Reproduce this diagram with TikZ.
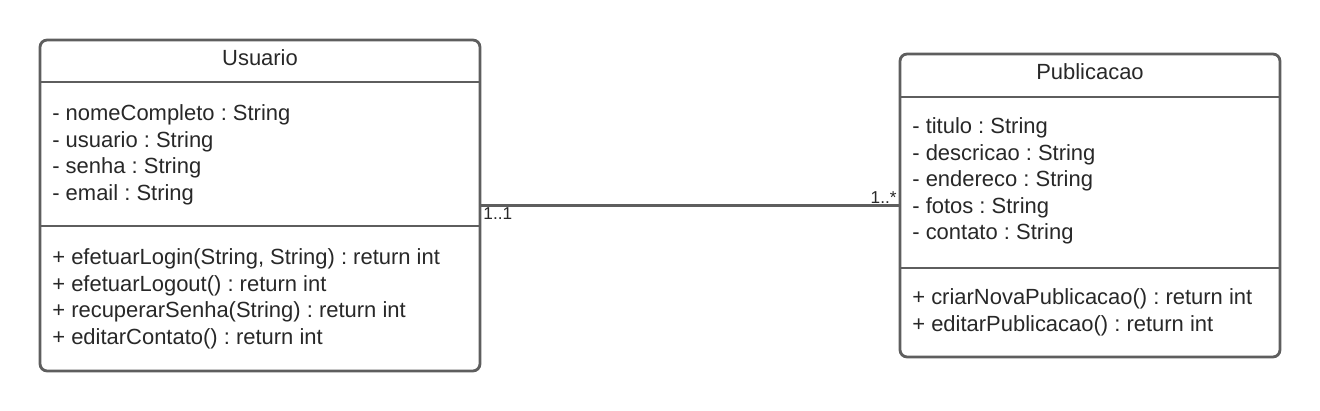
\documentclass[tikz,border=0pt]{standalone}
\usepackage{fontspec}
\setmainfont{Liberation Sans}
\usetikzlibrary{positioning}
\definecolor{umlgray}{HTML}{5E5E5E}
\definecolor{umltext}{HTML}{282828}
\frenchspacing

\begin{document}
\begin{tikzpicture}[
    x=0.02cm, y=-0.02cm,
    classbox/.style={rectangle, draw=umlgray, line width=1.6pt, rounded corners=4pt, fill=white, inner sep=0pt},
    divider/.style={draw=umlgray, line width=1.6pt},
    member/.style={anchor=base west, inner sep=0pt, text=umltext, font=\fontsize{12.5}{15}\selectfont},
    title/.style={anchor=base, inner sep=0pt, text=umltext, font=\fontsize{12.5}{15}\selectfont},
    mult/.style={inner sep=1pt, text=umltext, font=\fontsize{9.8}{11}\selectfont},
    line/.style={draw=umlgray, line width=1.2pt}
]
    \useasboundingbox (0,0) rectangle (1320,411);

    % Classes
    \node [classbox, minimum width=8.8cm, minimum height=6.62cm] (usuario) at (260,205.5) {};
    \node [classbox, minimum width=7.6cm, minimum height=6.06cm] (publicacao) at (1090,205.5) {};

    \path [divider] (40,82) -- (480,82);
    \path [divider] (40,226) -- (480,226);
    \path [divider] (900,97) -- (1280,97);
    \path [divider] (900,268) -- (1280,268);

    % Usuario
    \node [title] (usuarioname) at (260,66) {Usuario};
    \foreach \txt [count=\i from 0] in {- nomeCompleto : String, - usuario : String, - senha : String, - email : String}
        \node [member] (uattr\i) at (52,121+26.5*\i) {\txt};
    \foreach \txt [count=\i from 0] in {{+ efetuarLogin(String, String) : return int}, + efetuarLogout() : return int, + recuperarSenha(String) : return int, + editarContato() : return int}
        \node [member] (umeth\i) at (52,265+26.5*\i) {\txt};

    % Publicacao
    \node [title] (publicacaoname) at (1090,80) {Publicacao};
    \foreach \txt [count=\i from 0] in {- titulo : String, - descricao : String, - endereco : String, - fotos : String, - contato : String}
        \node [member] (pattr\i) at (912,134+26.5*\i) {\txt};
    \foreach \txt [count=\i from 0] in {+ criarNovaPublicacao() : return int, + editarPublicacao() : return int}
        \node [member] (pmeth\i) at (912,305+26.5*\i) {\txt};

    % Association
    \path [line] (usuario.east) -- (publicacao.west);
    \node [mult, below right=0pt and 0pt of usuario.east] (multusuario) {1..1};
    \node [mult, above left=0pt and 0pt of publicacao.west] (multpublicacao) {1..*};
\end{tikzpicture}
\end{document}
